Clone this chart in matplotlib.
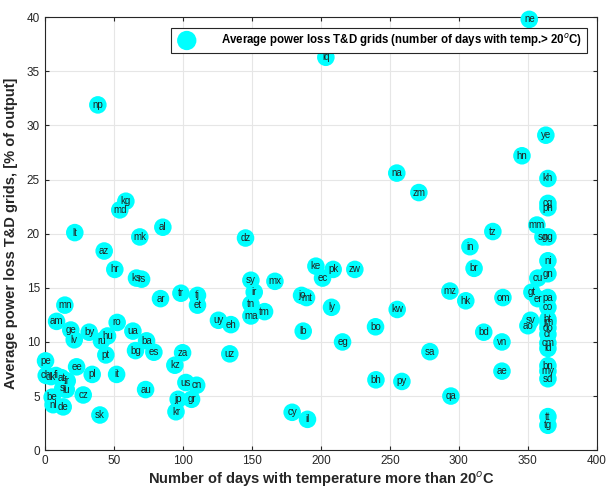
import matplotlib
matplotlib.use("Agg")
import matplotlib.pyplot as plt

plt.rcParams["font.family"] = ["Liberation Sans", "DejaVu Sans"]

# country code, days with temp > 20C, average T&D loss [% of output]
codes = ["ne", "iq", "np", "kg", "md", "lt", "al", "mk", "az", "hr",
         "ks", "rs", "tr", "ar", "tj", "et", "dz", "sy", "ir", "tn",
         "ma", "tm", "mx", "uy", "eh", "uz", "za", "kz", "ke", "ec",
         "pk", "zw", "jo", "mt", "ly", "lb", "eg", "bo", "kw", "bh",
         "cy", "il", "py", "qa", "sa", "na", "zm", "mz", "hk", "br",
         "in", "tz", "om", "bd", "vn", "ae", "hn", "ye", "kh", "cg",
         "ph", "mm", "sg", "ng", "ni", "gn", "cu", "gt", "er", "pa",
         "co", "sv", "ao", "ht", "jm", "do", "cr", "cm", "id", "bn",
         "my", "sd", "tt", "tg",
         "mn", "am", "ge", "lv", "by", "ru", "hu", "ro", "ua", "pt",
         "pe", "ee", "pl", "it", "ch", "dk", "fi", "at", "fr", "si",
         "lu", "be", "nl", "de", "cz", "sk", "au", "us", "cn", "jp",
         "gr", "kr", "ba", "bg", "es"]
days = [351, 203.6, 38.4, 58.7, 54.3, 21.7, 85.5, 68.8, 43.0, 50.7,
        66.4, 70.1, 98.6, 83.8, 110.6, 110.6, 145.4, 149.3, 151.7, 149.3,
        149.3, 159.2, 166.7, 125.8, 134.8, 134.0, 99.8, 94.2, 196.4, 201.2,
        208.9, 224.6, 186.0, 189.6, 207.7, 187.2, 215.7, 239.6, 255.3, 239.9,
        179.2, 190.3, 258.7, 294.2, 279.0, 255.0, 271.0, 293.5, 305.0, 311.0,
        308.0, 324.6, 331.9, 318.0, 331.2, 331.2, 345.7, 363.0, 364.5, 364.5,
        364.5, 356.5, 360.9, 364.5, 364.5, 364.5, 357.2, 352.9, 357.2, 364.5,
        364.5, 352.0, 350.0, 364.5, 364.5, 364.5, 364.5, 364.5, 364.5, 364.5,
        364.5, 364.5, 364.5, 364.5,
        14.5, 8.5, 18.8, 21.3, 32.1, 41.0, 45.4, 52.4, 63.8, 44.2,
        0.5, 23.0, 34.3, 52.0, 1.0, 4.5, 8.0, 12.0, 16.2, 13.0,
        15.5, 5.3, 6.0, 13.3, 27.8, 39.9, 73.0, 102.2, 110.0, 96.6,
        106.3, 95.0, 73.7, 65.7, 79.0]
loss = [39.8, 36.3, 31.9, 23.0, 22.2, 20.1, 20.6, 19.7, 18.4, 16.7,
        15.9, 15.8, 14.5, 14.0, 14.3, 13.4, 19.6, 15.7, 14.6, 13.5,
        12.4, 12.8, 15.6, 12.0, 11.6, 8.9, 9.0, 7.85, 17.0, 15.9,
        16.7, 16.7, 14.3, 14.1, 13.2, 11.0, 10.0, 11.4, 13.0, 6.5,
        3.5, 2.85, 6.35, 5.0, 9.1, 25.6, 23.8, 14.7, 13.8, 16.8,
        18.8, 20.2, 14.1, 10.9, 10.0, 7.3, 27.2, 29.1, 25.1, 22.8,
        22.4, 20.8, 19.7, 19.7, 17.5, 16.3, 15.9, 14.6, 14.0, 14.1,
        13.2, 12.0, 11.5, 12.1, 11.8, 11.3, 10.7, 9.9, 9.4, 7.8,
        7.3, 6.6, 3.1, 2.3,
        13.4, 11.9, 11.1, 10.2, 10.9, 10.1, 10.55, 11.8, 11.0, 8.8,
        8.25, 7.7, 7.0, 7.0, 6.9, 6.8, 6.9, 6.7, 6.4, 5.7,
        5.6, 4.9, 4.2, 4.0, 5.1, 3.25, 5.6, 6.25, 6.0, 4.7,
        4.7, 3.55, 10.1, 9.2, 9.05]

fig = plt.figure(figsize=(6.06, 4.92), dpi=100)
ax = fig.add_axes([0.074, 0.085, 0.911, 0.88])

ax.scatter(days, loss, s=160, c="#00ffff", edgecolors="none", zorder=3, clip_on=False,
           label="Average power loss T&D grids (number of days with temp.> 20$^{o}$C)")
for c, x, y in zip(codes, days, loss):
    ax.text(x, y, c, fontsize=7, ha="center", va="center", color="#222222", zorder=4)

ax.set_xlim(0, 400)
ax.set_ylim(0, 40)
ax.set_xticks(range(0, 401, 50))
ax.set_yticks(range(0, 41, 5))
ax.grid(True, color="#e6e6e6", linewidth=0.8, zorder=0)
ax.tick_params(direction="in", labelsize=8.5, colors="#262626", length=3, top=True, right=True,
               labeltop=False, labelright=False)
for sp in ax.spines.values():
    sp.set_color("#262626")
    sp.set_linewidth(0.8)

ax.set_xlabel("Number of days with temperature more than 20$^{o}$C", fontsize=10.5,
              fontweight="bold", color="#262626", labelpad=2)
ax.set_ylabel("Average power loss T&D grids, [% of output]", fontsize=10.5,
              fontweight="bold", color="#262626", labelpad=6)

leg = ax.legend(loc="upper right", prop={"weight": "bold", "size": 8.3},
                fancybox=False, edgecolor="#262626", framealpha=1, borderaxespad=0.9,
                handletextpad=2.0, borderpad=0.35, markerscale=1.1)
leg.get_frame().set_linewidth(0.8)

fig.savefig("out.png", dpi=100)
